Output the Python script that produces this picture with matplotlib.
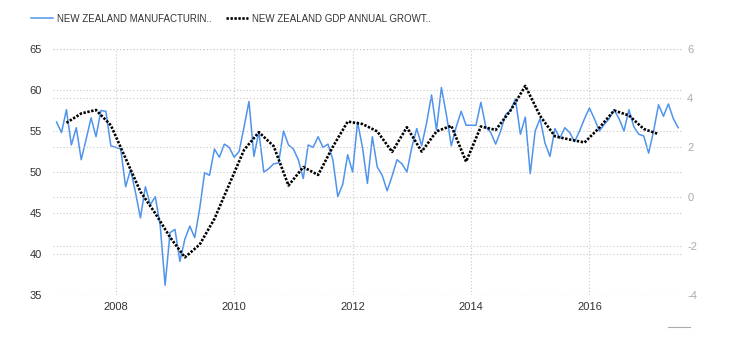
import numpy as np
import matplotlib.pyplot as plt
from matplotlib.lines import Line2D

# NZ manufacturing PMI, monthly, Jan 2007 - Jul 2017
pmi = [56.1, 54.8, 57.6, 53.3, 55.4, 51.5, 54.0, 56.6, 54.3, 57.5, 57.4, 53.2,
       53.0, 52.8, 48.2, 50.3, 47.5, 44.4, 48.2, 46.0, 47.0, 43.5, 36.2, 42.6,
       43.0, 39.1, 41.8, 43.4, 42.0, 45.5, 49.9, 49.6, 52.8, 51.8, 53.4, 53.0,
       51.8, 52.5, 55.5, 58.6, 51.9, 54.9, 50.0, 50.4, 51.0, 51.1, 55.0, 53.3,
       52.8, 51.5, 49.2, 53.3, 53.0, 54.3, 53.0, 53.4, 51.5, 47.0, 48.5, 52.1,
       50.0, 56.1, 53.0, 48.6, 54.3, 50.6, 49.6, 47.7, 49.5, 51.5, 51.0, 50.0,
       53.0, 55.3, 53.2, 56.0, 59.4, 55.1, 60.3, 57.0, 53.2, 55.5, 57.4, 55.7,
       55.7, 55.7, 58.5, 55.5, 54.8, 53.4, 55.0, 57.0, 57.5, 58.9, 54.6, 56.7,
       49.8, 55.0, 56.5, 53.5, 51.9, 55.3, 54.1, 55.4, 54.8, 53.7, 55.0, 56.5,
       57.8, 56.5, 55.0, 55.8, 56.5, 57.6, 56.5, 55.0, 57.6, 55.5, 54.6, 54.4,
       52.3, 55.0, 58.2, 56.8, 58.3, 56.5, 55.4]
pmi_start = 2007.0

# NZ GDP annual growth, quarterly, Q1 2007 - Q1 2017
gdp = [3.0, 3.38, 3.52, 2.9, 1.55, 0.2, -0.68, -1.65, -2.47, -1.95, -0.9,
       0.5, 1.9, 2.62, 2.05, 0.45, 1.2, 0.88, 2.03, 3.05, 2.95, 2.65, 1.82,
       2.82, 1.83, 2.65, 2.88, 1.42, 2.85, 2.71, 3.5, 4.5, 3.28, 2.45, 2.32,
       2.2, 2.8, 3.5, 3.3, 2.75, 2.54]
gdp_start = 2007.167

year_ticks = [2008, 2010, 2012, 2014, 2016]
left_ticks = [35, 40, 45, 50, 55, 60, 65]
right_ticks = [-4, -2, 0, 2, 4, 6]

t_pmi = pmi_start + np.arange(len(pmi)) / 12
t_gdp = gdp_start + np.arange(len(gdp)) * 0.25

plt.rcParams['font.family'] = ['Liberation Sans', 'DejaVu Sans']
plt.rcParams['axes.unicode_minus'] = False

fig = plt.figure(figsize=(7.3, 3.4), dpi=100)
ax1 = fig.add_axes([53/730, 1-295/340, (683-53)/730, (295-49)/340])
ax2 = ax1.twinx()

grid_kw = dict(color='#c8c8c8', linestyle=(0, (1, 2)), linewidth=0.8)

l1, = ax1.plot(t_pmi, pmi, color='#4f94ec', linewidth=1.1, zorder=3)
l2, = ax2.plot(t_gdp, gdp, color='black', linewidth=1.9,
               linestyle=(0, (0.9, 0.6)), dash_capstyle='butt', zorder=4)

ax1.set_xlim(2006.94, 2017.58)
ax1.set_ylim(35, 65)
ax2.set_ylim(-4, 6)
ax1.set_xticks(year_ticks)
ax1.set_xticklabels([str(y) for y in year_ticks])
ax1.set_yticks(left_ticks)
ax2.set_yticks(right_ticks)

ax1.grid(True, axis='both', **grid_kw)
ax2.grid(True, axis='y', **grid_kw)
ax1.set_axisbelow(True)

for ax in (ax1, ax2):
    for s in ax.spines.values():
        s.set_visible(False)
    ax.tick_params(length=0)

ax1.tick_params(axis='y', labelsize=8, labelcolor='#333333', pad=8)
ax1.tick_params(axis='x', labelsize=8, labelcolor='#333333', pad=5)
ax2.tick_params(axis='y', labelsize=8, labelcolor='#aaaaaa', pad=3)

fig.legend([l1, l2], ['NEW ZEALAND MANUFACTURIN..', 'NEW ZEALAND GDP ANNUAL GROWT..'],
           loc='upper left', bbox_to_anchor=(0.03, 0.985), ncol=2, frameon=False,
           fontsize=7, handlelength=2.3, handletextpad=0.4, columnspacing=1.5,
           labelcolor='#333333')

fig.add_artist(Line2D([668/730, 690/730], [1-327/340, 1-327/340],
                      color='#aaaaaa', linewidth=0.8))

plt.savefig("out.png", dpi=100)
